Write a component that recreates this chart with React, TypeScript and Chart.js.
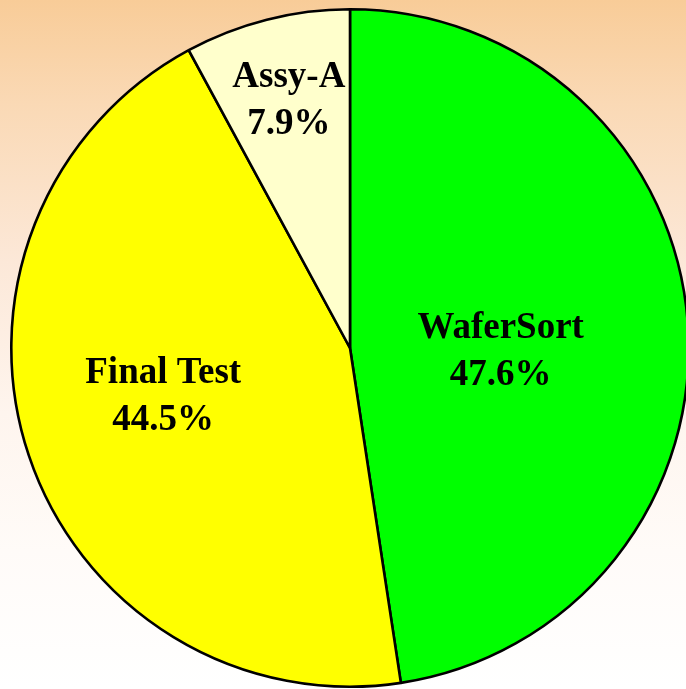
import React, { useEffect, useRef } from "react";
import { Chart, registerables } from "chart.js";

Chart.register(...registerables);

const categories = ["WaferSort", "Final Test", "Assy-A"];
const shares = [47.6, 44.5, 7.9];
const percentLabels = ["47.6%", "44.5%", "7.9%"];
const sliceColors = ["#00FF00", "#FFFF00", "#FFFFCC"];
// label placement along each slice: radial fraction and angular tweak (deg)
const labelRadius = [0.445, 0.568, 0.761];
const labelAngleTweak = [4.7, 4.7, 0.5];

const labelPlugin = {
  id: "sliceLabels",
  afterDatasetsDraw(chart: any) {
    const ctx = chart.ctx;
    const meta = chart.getDatasetMeta(0);
    ctx.save();
    ctx.fillStyle = "#000000";
    ctx.font = 'bold 37px "Liberation Serif", "Times New Roman", serif';
    ctx.textAlign = "center";
    ctx.textBaseline = "alphabetic";
    meta.data.forEach((arc: any, i: number) => {
      const { x, y, startAngle, endAngle, outerRadius } = arc.getProps(
        ["x", "y", "startAngle", "endAngle", "outerRadius"],
        true
      );
      const mid = (startAngle + endAngle) / 2 + (labelAngleTweak[i] * Math.PI) / 180;
      const r = outerRadius * labelRadius[i];
      const cx = x + Math.cos(mid) * r;
      const cy = y + Math.sin(mid) * r;
      ctx.fillText(categories[i], cx, cy - 11);
      ctx.fillText(percentLabels[i], cx, cy + 36);
    });
    ctx.restore();
  },
};

export default function App() {
  const canvasRef = useRef<HTMLCanvasElement | null>(null);

  useEffect(() => {
    if (!canvasRef.current) return;
    const chart = new Chart(canvasRef.current, {
      type: "pie",
      data: {
        labels: categories,
        datasets: [
          {
            data: shares,
            backgroundColor: sliceColors,
            borderColor: "#000000",
            borderWidth: 2.6,
            hoverOffset: 0,
          },
        ],
      },
      options: {
        responsive: false,
        animation: false,
        rotation: 0,
        layout: { padding: { top: 8, bottom: 1, left: 10, right: 10 } },
        plugins: {
          legend: { display: false },
          tooltip: { enabled: false },
        },
      },
      plugins: [labelPlugin],
    });
    return () => chart.destroy();
  }, []);

  return (
    <div
      style={{
        position: "fixed",
        left: 0,
        top: 0,
        width: 686,
        height: 689,
        overflow: "hidden",
        background:
          "linear-gradient(to bottom, #F8CC98 0%, #FAD9B5 15%, #FCE8D8 38%, #FEF5EE 60%, #FFFBF8 80%, #FFFFFF 100%)",
      }}
    >
      <canvas
        ref={canvasRef}
        width={700}
        height={689}
        style={{ display: "block", width: 700, height: 689 }}
      />
    </div>
  );
}
